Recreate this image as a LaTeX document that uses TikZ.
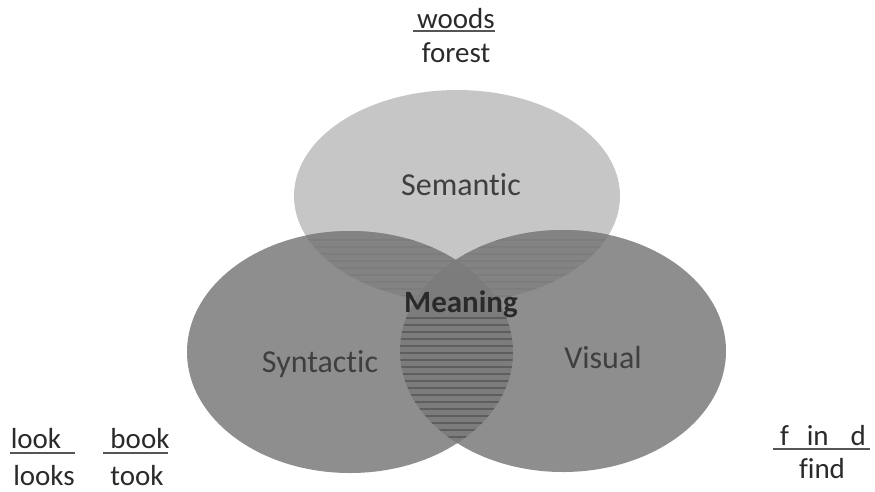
\documentclass[tikz,border=0pt]{standalone}
\usepackage{fontspec}
\setmainfont{Carlito}[RawFeature=-liga]
\definecolor{semfill}{HTML}{C6C6C6}
\definecolor{lowfill}{HTML}{8E8E8E}
\definecolor{lensfill}{HTML}{7C7C7C}
\definecolor{stripe}{HTML}{5E5E5E}
\definecolor{inktext}{HTML}{2A2A2A}
\definecolor{ruleink}{HTML}{555555}
\begin{document}
\begin{tikzpicture}[x=1pt,y=-1pt,
  wordlbl/.style={font=\fontsize{29}{34}\selectfont, text=inktext, inner sep=0pt, anchor=base},
  setlbl/.style={font=\fontsize{32}{38}\selectfont, text=inktext!90!white, inner sep=0pt, anchor=base},
  fracrule/.style={draw=ruleink, line width=2pt}]
\useasboundingbox (0,0) rectangle (875,491);
% ellipses
\fill[semfill] (457,196) ellipse [x radius=163, y radius=106];
\fill[lowfill] (350,352) ellipse [x radius=163, y radius=121];
\fill[lowfill] (563,351) ellipse [x radius=163, y radius=121];
% overlaps of lower sets with semantic
\begin{scope}
  \clip (457,196) ellipse [x radius=163, y radius=106];
  \clip (350,352) ellipse [x radius=163, y radius=121];
  \fill[lensfill!60!lowfill] (280,220) rectangle (640,310);
  \foreach \yy in {240,247,...,302} \draw[stripe!35!lowfill, line width=1.5pt] (280,\yy) -- (640,\yy);
\end{scope}
\begin{scope}
  \clip (457,196) ellipse [x radius=163, y radius=106];
  \clip (563,351) ellipse [x radius=163, y radius=121];
  \fill[lensfill!60!lowfill] (280,220) rectangle (640,310);
  \foreach \yy in {240,247,...,302} \draw[stripe!35!lowfill, line width=1.5pt] (280,\yy) -- (640,\yy);
\end{scope}
% lens syntactic & visual
\begin{scope}
  \clip (350,352) ellipse [x radius=163, y radius=121];
  \fill[lensfill] (563,351) ellipse [x radius=163, y radius=121];
  \clip (563,351) ellipse [x radius=163, y radius=121];
  \foreach \yy in {318,325,...,440} \draw[stripe, line width=2.5pt] (395,\yy) -- (520,\yy);
\end{scope}
% set labels
\node[setlbl] (sem) at (461,195) {Semantic};
\node[setlbl] (syn) at (320,372) {Syntactic};
\node[setlbl] (vis) at (603,368) {Visual};
\node[setlbl, font=\fontsize{31}{37}\selectfont\bfseries, text=inktext] (mea) at (461,312) {Meaning};
% word labels
\node[wordlbl] (woods) at (456,28) {woods};
\node[wordlbl] (forest) at (456,62) {forest};
\coordinate (w1) at (413,31); \coordinate (w2) at (495,31);
\draw[fracrule] (w1) -- (w2);
\node[wordlbl] (look) at (36,448) {look};
\node[wordlbl] (looks) at (44,485) {looks};
\coordinate (l1) at (10,453); \coordinate (l2) at (75,453);
\draw[fracrule] (l1) -- (l2);
\node[wordlbl] (book) at (140,448) {book};
\node[wordlbl] (took) at (137,485) {took};
\coordinate (b1) at (103,453); \coordinate (b2) at (168,453);
\draw[fracrule] (b1) -- (b2);
\node[wordlbl] (find1) at (823,445) {f\hspace{18pt}in\hspace{22pt}d};
\node[wordlbl] (find2) at (822,478) {find};
\coordinate (f1) at (773,449); \coordinate (f2) at (870,449);
\draw[fracrule] (f1) -- (f2);
\end{tikzpicture}
\end{document}
